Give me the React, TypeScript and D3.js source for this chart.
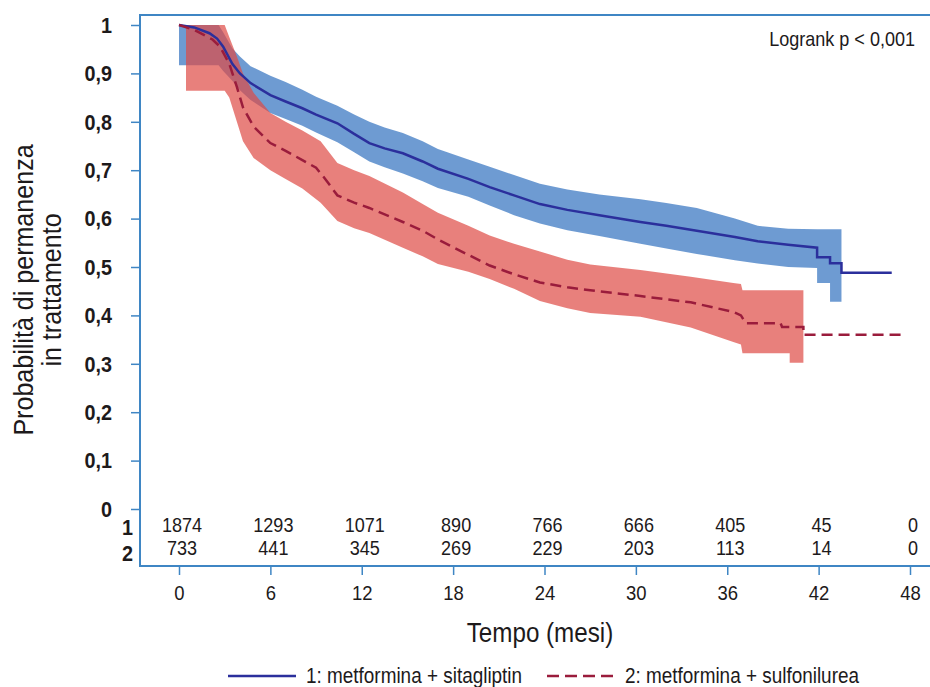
import React, { useEffect, useRef } from 'react'
import * as d3 from 'd3'

const WIDTH = 930
const HEIGHT = 687

// Kaplan-Meier estimates (time in months); repeated times are vertical steps
const blueTime = [0, 1, 2, 2.5, 2.9, 3.5, 4, 4.7, 6, 7, 8.1, 9, 10.4, 11.5, 12.5, 13.5, 14.7, 16, 17, 19, 20.4, 22, 23.7, 25.5, 27.6, 30.3, 32, 34, 36.5, 38, 40, 41.9, 41.9, 42.75, 42.75, 43.5, 43.5, 46.8]
const blueSurv = [1, 0.995, 0.983, 0.972, 0.955, 0.92, 0.9, 0.88, 0.855, 0.842, 0.828, 0.815, 0.797, 0.775, 0.756, 0.745, 0.735, 0.718, 0.703, 0.682, 0.665, 0.648, 0.63, 0.618, 0.607, 0.593, 0.585, 0.575, 0.562, 0.553, 0.546, 0.54, 0.52, 0.52, 0.508, 0.508, 0.488, 0.488]

const blueCiTime = [0, 2.6, 2.9, 3.5, 4, 4.7, 6, 7, 8.1, 9, 10.4, 11.5, 12.5, 13.5, 14.7, 16, 17, 19, 20.4, 22, 23.7, 25.5, 27.6, 30.3, 32, 34, 36.5, 38, 40, 41.9, 41.9, 42.75, 42.75, 43.5]
const blueLower = [0.917, 0.917, 0.905, 0.885, 0.865, 0.845, 0.818, 0.806, 0.792, 0.778, 0.758, 0.737, 0.718, 0.706, 0.693, 0.677, 0.663, 0.645, 0.627, 0.607, 0.59, 0.576, 0.564, 0.548, 0.538, 0.527, 0.514, 0.507, 0.5, 0.498, 0.467, 0.467, 0.428, 0.428]
const blueUpper = [1, 1, 0.985, 0.952, 0.935, 0.915, 0.895, 0.882, 0.866, 0.852, 0.833, 0.815, 0.8, 0.788, 0.777, 0.76, 0.744, 0.722, 0.707, 0.69, 0.672, 0.66, 0.65, 0.64, 0.632, 0.622, 0.6, 0.585, 0.579, 0.578, 0.578, 0.578, 0.578, 0.578]

const redTime = [0, 1, 1.6, 2.2, 2.7, 3.3, 3.8, 4.2, 4.9, 6, 7, 8.1, 9, 9.6, 10.4, 11.5, 12.5, 14.7, 16, 17, 19, 20.4, 22, 23.7, 25.5, 27, 30.3, 33.6, 36.4, 36.9, 37.2, 39.5, 39.6, 41, 41, 47.7]
const redSurv = [1, 0.99, 0.98, 0.97, 0.955, 0.92, 0.872, 0.83, 0.79, 0.756, 0.74, 0.721, 0.705, 0.682, 0.648, 0.633, 0.622, 0.593, 0.575, 0.557, 0.525, 0.503, 0.485, 0.468, 0.458, 0.452, 0.44, 0.427, 0.407, 0.4, 0.384, 0.384, 0.376, 0.376, 0.36, 0.36]

const redCiTime = [0.46, 3.0, 3.3, 3.8, 4.2, 4.9, 6, 7, 8.1, 9.3, 10.4, 11.5, 12.5, 14.7, 16, 17, 19, 20.4, 22, 23.7, 25.5, 27, 30.3, 33.6, 36.4, 36.9, 37, 40.1, 40.1, 41]
const redLower = [0.864, 0.864, 0.85, 0.8, 0.76, 0.725, 0.7, 0.682, 0.662, 0.633, 0.595, 0.58, 0.57, 0.54, 0.522, 0.506, 0.49, 0.475, 0.455, 0.43, 0.415, 0.405, 0.397, 0.375, 0.345, 0.34, 0.322, 0.322, 0.302, 0.302]
const redUpper = [1, 1, 0.975, 0.935, 0.9, 0.86, 0.818, 0.8, 0.782, 0.76, 0.715, 0.7, 0.688, 0.654, 0.63, 0.612, 0.585, 0.565, 0.548, 0.532, 0.515, 0.505, 0.494, 0.48, 0.467, 0.465, 0.452, 0.452, 0.452, 0.452]

// numbers at risk
const riskTicks = [0, 6, 12, 18, 24, 30, 36, 42, 48]
const risk1 = [1874, 1293, 1071, 890, 766, 666, 405, 45, 0]
const risk2 = [733, 441, 345, 269, 229, 203, 113, 14, 0]
const riskRowLabels = ['1', '2']

const yTicks = [0, 0.1, 0.2, 0.3, 0.4, 0.5, 0.6, 0.7, 0.8, 0.9, 1]
const seriesNames = ['1: metformina + sitagliptin', '2: metformina + sulfonilurea']

const FONT = "'Liberation Sans', Arial, sans-serif"
const SX = 0.88 // horizontal squeeze to imitate a condensed face
const FRAME = '#3f86c4'
const TEXT = '#1d1a1b'
const BLUE_LINE = '#2b2f9c'
const RED_LINE = '#9a1c3c'
const BLUE_FILL = 'rgb(48,112,191)'
const RED_FILL = 'rgb(222,74,69)'

const App = () => {
  const ref = useRef<SVGSVGElement>(null)

  useEffect(() => {
    const svg = d3.select(ref.current)
    svg.selectAll('*').remove()

    const x = d3.scaleLinear().domain([0, 48]).range([179, 910])
    const y = d3.scaleLinear().domain([0, 1]).range([509, 25])

    const left = 140
    const top = 15
    const bottom = 566

    const zip = (t: number[], v: number[]) => t.map((d, i) => [d, v[i]] as [number, number])
    const band = (t: number[], lo: number[], hi: number[]) => t.map((d, i) => ({ t: d, lo: lo[i], hi: hi[i] }))

    const area = d3.area<{ t: number; lo: number; hi: number }>()
      .x((d) => x(d.t))
      .y0((d) => y(d.lo))
      .y1((d) => y(d.hi))

    const line = d3.line<[number, number]>()
      .x((d) => x(d[0]))
      .y((d) => y(d[1]))

    const label = (px: number, py: number, str: string, size: number, anchor = 'start', weight = 'normal') =>
      svg.append('text')
        .attr('transform', `translate(${px}, ${py}) scale(${SX}, 1)`)
        .attr('text-anchor', anchor)
        .attr('font-family', FONT)
        .attr('font-size', size)
        .attr('font-weight', weight)
        .attr('fill', TEXT)
        .text(str)

    // confidence bands
    svg.append('path')
      .attr('d', area(band(blueCiTime, blueLower, blueUpper)))
      .attr('fill', BLUE_FILL)
      .attr('fill-opacity', 0.7)
    svg.append('path')
      .attr('d', area(band(redCiTime, redLower, redUpper)))
      .attr('fill', RED_FILL)
      .attr('fill-opacity', 0.7)

    // survival curves
    svg.append('path')
      .attr('d', line(zip(blueTime, blueSurv)))
      .attr('fill', 'none')
      .attr('stroke', BLUE_LINE)
      .attr('stroke-width', 2.5)
    svg.append('path')
      .attr('d', line(zip(redTime, redSurv)))
      .attr('fill', 'none')
      .attr('stroke', RED_LINE)
      .attr('stroke-width', 2.5)
      .attr('stroke-dasharray', '11,6')

    // frame
    svg.append('path')
      .attr('d', `M${WIDTH + 5},${top}H${left}V${bottom}H${WIDTH + 5}`)
      .attr('fill', 'none')
      .attr('stroke', FRAME)
      .attr('stroke-width', 2)

    const fmt = (v: number) => (v === 0 || v === 1 ? String(v) : d3.format('.1f')(v).replace('.', ','))

    const yAxis = svg.append('g')
      .attr('transform', `translate(${left}, 0)`)
      .call(d3.axisLeft(y).tickValues(yTicks).tickSize(9).tickPadding(19).tickFormat((d) => fmt(+d)))
    yAxis.select('.domain').remove()
    yAxis.selectAll('line').attr('stroke', FRAME).attr('stroke-width', 1.5)
    yAxis.selectAll('text')
      .attr('x', -28 / SX)
      .attr('transform', `scale(${SX}, 1)`)
      .attr('font-family', FONT)
      .attr('font-size', 22.5)
      .attr('font-weight', 'bold')
      .attr('fill', TEXT)

    const xAxis = svg.append('g')
      .attr('transform', `translate(0, ${bottom})`)
      .call(d3.axisBottom(x).tickValues(riskTicks).tickSize(9).tickPadding(10))
    xAxis.select('.domain').remove()
    xAxis.selectAll('line').attr('stroke', FRAME).attr('stroke-width', 1.5)
    xAxis.selectAll('text')
      .attr('transform', `scale(${SX}, 1)`)
      .attr('font-family', FONT)
      .attr('font-size', 21)
      .attr('fill', TEXT)

    // risk table
    const riskRows = [risk1, risk2]
    riskRows.forEach((row, r) => {
      label(133, 535 + r * 26, riskRowLabels[r], 22.5, 'end', 'bold')
      row.forEach((v, i) => {
        label(x(riskTicks[i]) + 3, 532 + r * 23, String(v), 20.5, 'middle')
      })
    })

    // titles
    label(540, 642, 'Tempo (mesi)', 27.5, 'middle')

    const yTitle = svg.append('text')
      .attr('transform', `translate(0, 290) rotate(-90) scale(${SX}, 1)`)
      .attr('text-anchor', 'middle')
      .attr('font-family', FONT)
      .attr('font-size', 28.5)
      .attr('fill', TEXT)
    yTitle.append('tspan').attr('x', 0).attr('y', 33).text('Probabilità di permanenza')
    yTitle.append('tspan').attr('x', 0).attr('y', 61).text('in trattamento')

    label(915, 46, 'Logrank p < 0,001', 20.5, 'end')

    // legend
    const legend = [
      { x: 228, color: BLUE_LINE, dash: null },
      { x: 547, color: RED_LINE, dash: '12,6' },
    ]
    legend.forEach((d, i) => {
      svg.append('line')
        .attr('x1', d.x)
        .attr('x2', d.x + 68)
        .attr('y1', 676)
        .attr('y2', 676)
        .attr('stroke', d.color)
        .attr('stroke-width', 2.5)
        .attr('stroke-dasharray', d.dash)
      label(d.x + 78, 683, seriesNames[i], 21.5)
    })
  }, [])

  return (
    <svg
      ref={ref}
      width={WIDTH}
      height={HEIGHT}
      style={{ position: 'absolute', left: 0, top: 0, background: 'white' }}
    ></svg>
  )
}

export default App
